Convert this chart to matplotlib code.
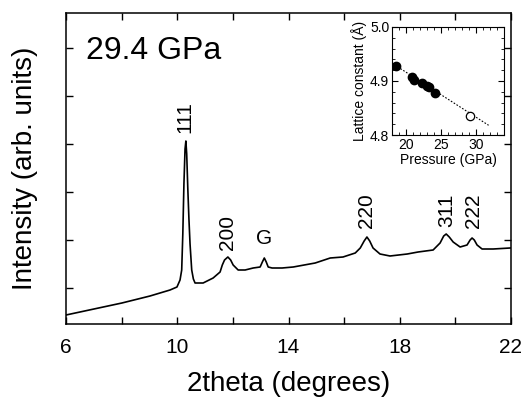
import numpy as np
import matplotlib
matplotlib.use('Agg')
import matplotlib.pyplot as plt
from matplotlib.ticker import MultipleLocator, FixedLocator

plt.rcParams['font.family'] = ['Liberation Sans', 'DejaVu Sans']

# diffraction pattern at 29.4 GPa
two_theta = [6.00, 8.01, 9.02, 9.74, 9.99, 10.10, 10.16, 10.20, 10.24, 10.28,
             10.31, 10.34, 10.38, 10.42, 10.46, 10.52, 10.58, 10.64, 10.93, 11.29,
             11.54, 11.62, 11.70, 11.82, 11.92, 12.01, 12.19, 12.44, 12.73, 12.98,
             13.06, 13.13, 13.20, 13.27, 13.41, 13.77, 14.17, 14.96, 15.50, 15.96,
             16.40, 16.58, 16.72, 16.82, 16.92, 17.04, 17.29, 17.65, 18.27, 18.66,
             19.20, 19.45, 19.58, 19.67, 19.78, 19.92, 20.17, 20.42, 20.53, 20.60,
             20.68, 20.78, 20.96, 21.36, 21.97]
intensity = [9, 21, 28, 34, 37, 44, 54, 90, 140, 175,
             183, 170, 135, 105, 80, 54, 45, 41, 41, 46,
             52, 59, 64, 67, 64, 59, 54, 54, 56, 57,
             62, 66, 62, 57, 56, 56, 57, 61, 66, 67,
             71, 76, 83, 87, 83, 76, 70, 68, 70, 72,
             74, 81, 88, 90, 87, 82, 77, 79, 84, 86,
             84, 79, 75, 75, 76]

peak_labels = ['111', '200', 'G', '220', '311', '222']
peak_pos = [10.26, 11.82, 13.12, 16.80, 19.70, 20.64]
peak_label_y = [191, 74, 76, 96, 97, 96]

# inset: lattice constant vs pressure
pressure = [18.5, 20.9, 21.2, 22.3, 23.05, 23.3, 24.1]
lattice = [4.928, 4.907, 4.901, 4.896, 4.891, 4.889, 4.878]
pressure_open = [29.2]
lattice_open = [4.836]
fit_p = [18.0, 31.8]
fit_a = [4.933, 4.818]

fig = plt.figure(figsize=(5.25, 3.97), dpi=100)
ax = fig.add_axes([66/525, 1-324/397, 445/525, 311/397])
ax.plot(two_theta, intensity, color='black', lw=1.2)
ax.set_xlim(6, 22)
ax.set_ylim(0, 311)
ax.set_xticks(np.arange(6, 23, 2))
ax.set_xticklabels([str(int(t)) if (t - 6) % 4 == 0 else ''
                    for t in np.arange(6, 23, 2)])
ax.yaxis.set_major_locator(FixedLocator([36, 84, 132, 180, 228, 276]))
ax.set_yticklabels([])
ax.tick_params(direction='in', top=True, right=True, length=5, width=1,
               labelsize=15, pad=10)
for s in ax.spines.values():
    s.set_linewidth(1.1)
ax.set_xlabel('2theta (degrees)', fontsize=20, labelpad=10)
ax.set_ylabel('Intensity (arb. units)', fontsize=20, labelpad=10)

ax.text(0.045, 0.852, '29.4 GPa', transform=ax.transAxes, fontsize=23,
        va='baseline', ha='left')
for lab, x, y in zip(peak_labels, peak_pos, peak_label_y):
    rot = 0 if lab == 'G' else 90
    ax.text(x, y, lab, rotation=rot, ha='center', va='bottom', fontsize=15)

ins = fig.add_axes([392/525, 1-135/397, 112/525, 108/397])
ins.plot(fit_p, fit_a, color='black', lw=0.8, ls=(0, (1.5, 1.5)))
ins.plot(pressure, lattice, 'o', color='black', ms=6)
ins.plot(pressure_open, lattice_open, 'o', mfc='white', mec='black', ms=6, mew=0.9)
ins.set_xlim(18, 34)
ins.set_ylim(4.8, 5.0)
ins.xaxis.set_major_locator(FixedLocator([20, 25, 30]))
ins.xaxis.set_minor_locator(MultipleLocator(1))
ins.set_yticks([4.8, 4.9, 5.0])
ins.set_yticklabels(['4.8', '4.9', '5.0'])
ins.yaxis.set_minor_locator(MultipleLocator(0.02))
ins.tick_params(which='both', direction='in', top=True, right=True, labelsize=10, pad=2)
ins.tick_params(which='major', length=4)
ins.tick_params(which='minor', length=2.5)
ins.set_xlabel('Pressure (GPa)', fontsize=10, labelpad=1)
ins.set_ylabel('Lattice constant (Å)', fontsize=10, labelpad=2)

fig.savefig('out.png', dpi=100)
